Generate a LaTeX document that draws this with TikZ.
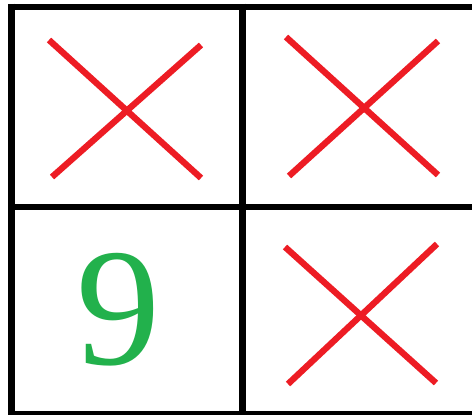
\documentclass[tikz,border=0pt]{standalone}
\usepackage{fontspec}
\setmainfont{Liberation Serif}
\definecolor{xred}{HTML}{ED1C24}
\definecolor{ngreen}{HTML}{22B14C}
\begin{document}
\begin{tikzpicture}[x=1pt,y=-1pt,
  gridline/.style={draw=black,line width=6.8pt},
  cross/.style={draw=xred,line width=6.3pt,line cap=butt}]
\useasboundingbox (0,0) rectangle (472,415);
\fill[white] (0,0) rectangle (472,415);
% grid
\coordinate (tl) at (8,7);
\coordinate (tr) at (480,7);
\coordinate (ml) at (8,207);
\coordinate (mr) at (480,207);
\coordinate (bl) at (8,414.5);
\coordinate (br) at (480,414.5);
\coordinate (lt) at (11.5,3.6);
\coordinate (lb) at (11.5,420);
\coordinate (ct) at (242.5,3.6);
\coordinate (cb) at (242.5,420);
\draw[gridline] (tl) -- (tr);
\draw[gridline] (ml) -- (mr);
\draw[gridline] (bl) -- (br);
\draw[gridline] (lt) -- (lb);
\draw[gridline] (ct) -- (cb);
% crosses
\coordinate (a1) at (49,40);  \coordinate (a2) at (201,178);
\coordinate (b1) at (201,45); \coordinate (b2) at (52,177);
\draw[cross] (a1) -- (a2);
\draw[cross] (b1) -- (b2);
\coordinate (c1) at (286,37);  \coordinate (c2) at (438,175);
\coordinate (d1) at (438,41);  \coordinate (d2) at (289,176);
\draw[cross] (c1) -- (c2);
\draw[cross] (d1) -- (d2);
\coordinate (e1) at (285,247);  \coordinate (e2) at (436,383);
\coordinate (f1) at (437,244);  \coordinate (f2) at (288,384);
\draw[cross] (e1) -- (e2);
\draw[cross] (f1) -- (f2);
% nine
\node[inner sep=0pt,text=ngreen,font=\fontsize{168}{168}\selectfont] (nine) at (118,310) {9};
\end{tikzpicture}
\end{document}
